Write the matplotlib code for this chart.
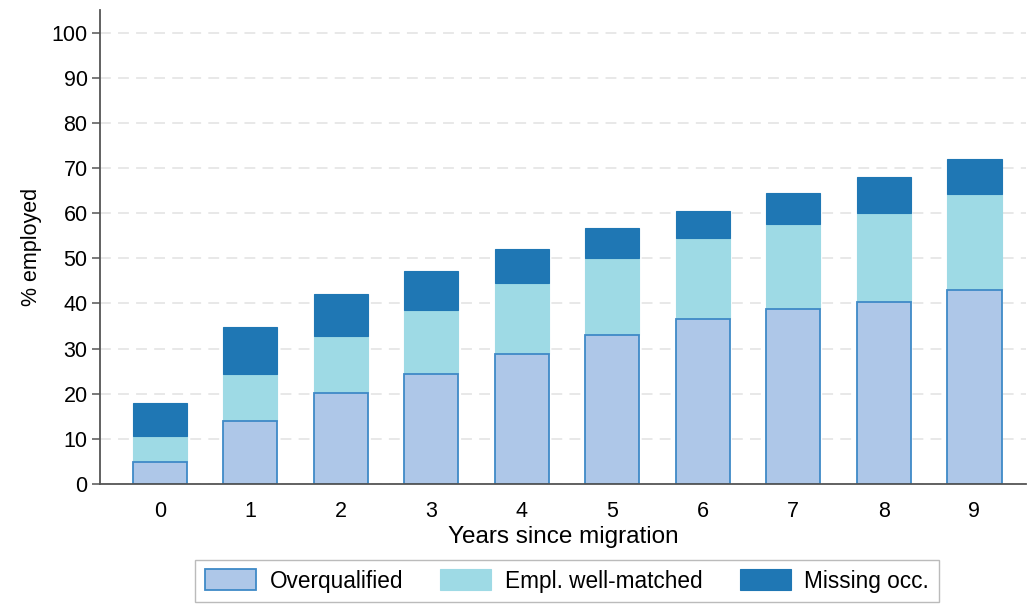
import matplotlib
matplotlib.use("Agg")
import matplotlib.pyplot as plt
import numpy as np

plt.rcParams['font.family'] = ['Liberation Sans', 'DejaVu Sans']

years = [0, 1, 2, 3, 4, 5, 6, 7, 8, 9]
overqualified = [4.8, 14.0, 20.2, 24.4, 28.8, 32.9, 36.5, 38.8, 40.3, 43.0]
well_matched = [5.9, 10.4, 12.5, 14.2, 15.7, 17.1, 18.0, 18.9, 19.8, 21.2]
missing_occ = [7.3, 10.4, 9.3, 8.5, 7.5, 6.6, 5.9, 6.8, 8.0, 7.8]
yticks = list(range(0, 101, 10))

x = np.arange(len(years))
fig = plt.figure(figsize=(10.28, 6.04), dpi=100)
ax = fig.add_axes([0.0973, 0.1987, 0.9007, 0.7847])

ax.set_axisbelow(True)
ax.yaxis.grid(True, color='#e6e6e6', linestyle=(0, (6, 4)), linewidth=1.3)

w = 0.6
bottom2 = np.array(overqualified)
bottom3 = bottom2 + np.array(well_matched)
b2 = ax.bar(x, well_matched, width=w, bottom=bottom2, color='#9edae5',
            edgecolor='#9edae5', linewidth=0.8, label='Empl. well-matched', zorder=2)
b3 = ax.bar(x, missing_occ, width=w, bottom=bottom3, color='#1f77b4',
            edgecolor='#1f77b4', linewidth=0.8, label='Missing occ.', zorder=2)
b1 = ax.bar(x, overqualified, width=w, color='#aec7e8', edgecolor='#3f8ac7',
            linewidth=1.3, label='Overqualified', zorder=3)

ax.set_xlim(-0.66, 9.57)
ax.set_ylim(0, 105)
ax.set_xticks(x)
ax.set_xticklabels([str(v) for v in years])
ax.set_yticks(yticks)
ax.set_yticklabels([str(v) for v in yticks])

for s in ['top', 'right']:
    ax.spines[s].set_visible(False)
for s in ['left', 'bottom']:
    ax.spines[s].set_color('#555555')
    ax.spines[s].set_linewidth(1.3)
    ax.spines[s].set_zorder(4)

ax.tick_params(axis='y', length=6, width=1.1, color='#555555', labelsize=15.5, pad=3)
ax.tick_params(axis='x', length=0, labelsize=15.5, pad=12)

ax.set_xlabel('Years since migration', fontsize=17.5, labelpad=3)
ax.set_ylabel('% employed', fontsize=15.5, labelpad=7)

leg = fig.legend(handles=[b1, b2, b3], loc='lower center', bbox_to_anchor=(0.5516, 0.003),
                 borderaxespad=0.0,
                 ncol=3, fontsize=16.3, frameon=True, fancybox=False,
                 edgecolor='#aaaaaa', handlelength=2.25, handleheight=1.05,
                 columnspacing=1.65, handletextpad=0.6, borderpad=0.42)
leg.get_frame().set_linewidth(1.0)

fig.savefig('out.png', dpi=100)
